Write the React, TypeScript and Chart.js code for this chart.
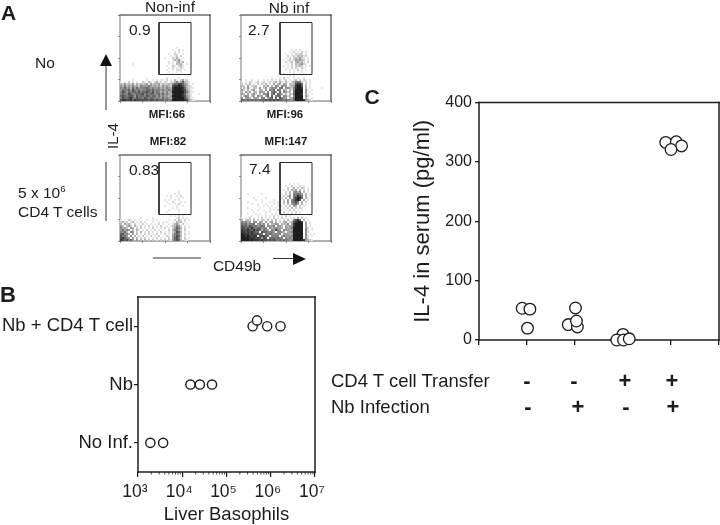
import React, { useEffect, useRef } from "react";
import { Chart, registerables } from "chart.js";

Chart.register(...registerables);

const FONT = '"Liberation Sans", Arial, sans-serif';
const INK = "#1c1c1c";

// ---- Panel A: hand-read density tables, one string per 2px row (top to bottom), digit = darkness
const blank = (n: number): string[] => Array(n).fill("");

const flowNonInfNo: string[] = [
  ...blank(16),
  "............................1",
  "..........................1..2.1",
  "...........................1.1",
  "........................1..21..1",
  ".........................1.12.2",
  "......................1...2131.1",
  "..........................13241",
  "........................1.1.2413",
  "......1.................1.1.3231.1",
  "......1................1..21.231",
  "........................1.2.1.21",
  ".......................1..1.121.1",
  "........................1...1.1",
  "..........................1..1",
  "",
  ".............1.........1.....1",
  "000000100000010010101102010310241200000000000",
  "101020101002103102312021021352463210000000000",
  "324232413232341423341322325668764310100000000",
  "435343534254445434342434327889875321000000000",
  "546453646455565454453435438999986321100000000",
  "465564755645566565554544548999987421000000000",
  "576465665756676574653535349999997531100000000",
  "565576556667565665564645438999986421000100000",
  "676567647566576566464544349999987431000000000",
  "576678657665765665554645438999997531100000000",
  "788778687777776776766656559999998742110000000",
];

const flowNbInfNo: string[] = [
  ...blank(17),
  ".........................1.1.1",
  "........................1.2.1.2.1",
  "......................1..1.2122.1",
  ".......................2.12132312",
  "......................1.2.232421.1",
  ".....................1.12.243432.1",
  "......................2.13.34231.2",
  ".......................1.2.323421",
  ".....................1.1.2.2232.1.1",
  ".......................1.2.21.21",
  "......................1.1.1.2.1.1",
  "........................1.1.1.1",
  ".....................1....1..1.1",
  "..................1.....1.1",
  "...............1...1.2.1..1.1..1",
  "..1..1..1..1.1.2.1.2.12.1.13.2.21.1",
  "1.1.21.12.12.12.23.32.31.235652.2.1",
  "2.213.1.2.213.2.4.34.43.3237886.2.1",
  "32.4.223.1.324.3.54.544.2348997.3.1",
  ".3141.32.4.24.3545.56.453258998.3.1.....1",
  "42.3.341.33.4.546.65.43.3159999.41.1",
  "3.424.33.443.5.565.6.5423.69999.4.1",
  "43.4.342.3.546.56.654.3.3269998.31.1",
  ".354.34.534.46.6.566.5423.59999.42",
  "5.443.443.55.456.6.7544.3369999.31.1",
  "665656565666767676766565546999984321",
];

const flowNonInfCd4: string[] = [
  ...blank(18),
  ".............................1",
  "...........................1.1",
  ".......................1.1..1.2",
  ".........................1...1.1",
  "......................1.1..1.1",
  ".......................1..2...1.1",
  "........................1..1.2",
  "......................1.....1..1",
  "..........................1.1",
  "........................1....1",
  ".......................1.....1",
  "",
  ".........................1.1.2.1",
  "..........1.....1...........12.1.1",
  "1.1.21.1.1...1..1.1.....1..2.31.2.1",
  "2312.13.1.2.1...1..1.1.1..1.323.1",
  "3.4231.2.1.2.1.1.1.2.1..1.1342.2.1",
  "43.342.31.2.1.2.1.1.2..1.123542.1.1",
  "5342.43.2.2.1.1.2.1.1.2.1.24653.2.1",
  "46354.3.31.1.2.1.2.1.1..2.35642.2",
  "5463.54.2.3.1.2.1.1.2.1.1.24763.1.1",
  "67453.4.3.1.2.2.1.2.1.2.1.35652.2.1",
  "7564.5.3.2.2.1.2.1.2.1.21.45763.1",
  "78654.4.3.2.2.1.1.2.1.1.2.46752.2.1",
  "8767564.4.3.3.2.2.1.2.2.2146763.21",
];

const flowNbInfCd4: string[] = [
  ...blank(14),
  "........................1.1.1",
  "......................1..2.1.2.1",
  ".......................2.13.2.31.1",
  ".....................1.2.324.3.2.1",
  "......................2.3.4535.3.1",
  "...1......1.........1.2.3.55654.3.1",
  ".....................2.34.56875.3.1",
  "......1.....1.......1.3.4.67986.31",
  ".......1..1.....1..1.2.4.56897.4.1",
  "...1......1...1.1.1..3.4.5675.3.2",
  ".....1..1...1...1.1..2.3.4564.3.1",
  "........1..1.1.1..1.1.2.3.43.2.1",
  "...1.....1....1..1.1.1.2.3.2.21",
  ".....1..1..1..1.1.2.1.1.2.2.1.1",
  "......1.....1.1..1.1.2.1.1.2.1",
  "...1...1.1..1..1.1.1.1.1.2.1.1",
  ".....1..1.1.1.1.2.1.1.2.1",
  "1.1.2.1.1.2.1.1.2.1.2.1.1.2.3.2.1",
  "3.232.3.2.32.3.2.3.1.2.3.15786.3.1",
  "54534.45.43.4.34.3.2.34.2378998.3.1",
  "6564556.4535.4.3344.3325.489999.4.1",
  "766576564565.5445.443.434489999.4.1",
  "7767686566455.5345443.434599999.42.1",
  "87787686763654.54754.5443499999.51.1",
  "887878766.7665554.5543.34599999.42",
  "98887877766.65654545.4443499999.5.1.1",
  "99898788.77766.5555.45444599999.42.1",
  "9999888787477.6665655.545499999.51",
  "999989888787767676565655459999984321",
];

const gateX = [39, 71];
const gateY = [26.5, 78.5];

// ---- Panel B
const basophilRows = ["No Inf.", "Nb", "Nb + CD4 T cell"];
const basophilNoInf = [1900, 3700];
const basophilNb = [15300, 25000, 47000];
const basophilNbCd4 = [390000, 490000, 830000, 1660000];
const basophilNbCd4Rows = [2, 2.1, 2, 2];
const decades = [1e3, 1e4, 1e5, 1e6, 1e7];
const decadeLabels = ["10³", "10⁴", "10⁵", "10⁶", "10⁷"];
const minorMultipliers = [2, 3, 4, 5, 6, 7, 8, 9];

// ---- Panel C
const il4Ticks = [0, 100, 200, 300, 400];
const groupNone = [53.5, 52, 20];
const groupNonePos = [0.9, 1.06, 1.01];
const groupNb = [54, 26, 22, 32];
const groupNbPos = [2.01, 1.86, 2.05, 2.03];
const groupCd4 = [9.5, 0, 0, 2];
const groupCd4Pos = [3.0, 2.87, 3.01, 3.13];
const groupBoth = [333, 334, 327, 321];
const groupBothPos = [3.89, 4.11, 4.22, 4.0];
const transferSigns = ["-", "-", "+", "+"];
const infectionSigns = ["-", "+", "-", "+"];

type FrameOpts = { color: string; width: number; top?: string; right?: string; left?: string; bottom?: string };

const framePlugin = (f: FrameOpts) => ({
  id: "frameLines",
  beforeDatasetsDraw(chart: any) {
    const { left, right, top, bottom } = chart.chartArea;
    const { ctx } = chart;
    const seg = (x1: number, y1: number, x2: number, y2: number, c?: string) => {
      ctx.save();
      ctx.strokeStyle = c || f.color;
      ctx.lineWidth = f.width;
      ctx.lineCap = "square";
      ctx.beginPath();
      ctx.moveTo(x1, y1);
      ctx.lineTo(x2, y2);
      ctx.stroke();
      ctx.restore();
    };
    seg(left, top, right, top, f.top);
    seg(right, top, right, bottom, f.right);
    seg(left, top, left, bottom, f.left);
    seg(left, bottom, right, bottom, f.bottom);
  },
});

const fixed = (size: number) => (scale: any) => {
  if (scale.isHorizontal()) scale.height = size;
  else scale.width = size;
};

function useChart(build: (canvas: HTMLCanvasElement) => Chart) {
  const ref = useRef<HTMLCanvasElement>(null);
  useEffect(() => {
    if (!ref.current) return;
    const c = build(ref.current);
    return () => c.destroy();
  }, []);
  return ref;
}

function FlowPanel({ grid, left, top }: { grid: string[]; left: number; top: number }) {
  const ref = useChart((canvas) => {
    const pts: { x: number; y: number }[] = [];
    const colors: string[] = [];
    grid.forEach((row, i) => {
      row.split("").forEach((ch, c) => {
        const d = Number(ch);
        if (ch === "." || !d) return;
        pts.push({ x: 2 * c + 1, y: 86 - (2 * i + 1) });
        const g = 255 - 25 * d;
        colors.push(`rgb(${g},${g},${g})`);
      });
    });
    return new Chart(canvas, {
      type: "scatter",
      data: {
        datasets: [
          {
            data: pts,
            pointStyle: "rect",
            pointRadius: 1.42,
            pointBorderWidth: 0,
            pointBackgroundColor: colors,
            order: 2,
          } as any,
          {
            data: [
              { x: gateX[0], y: gateY[0] },
              { x: gateX[1], y: gateY[0] },
              { x: gateX[1], y: gateY[1] },
              { x: gateX[0], y: gateY[1] },
              { x: gateX[0], y: gateY[0] },
            ],
            showLine: true,
            borderColor: "#2a2a2a",
            borderWidth: 1,
            pointRadius: 0,
            order: 1,
          } as any,
        ],
      },
      options: {
        responsive: false,
        animation: false,
        events: [],
        layout: { autoPadding: false, padding: { left: 2, top: 6, right: 6, bottom: 2 } },
        plugins: { legend: { display: false }, tooltip: { enabled: false } },
        scales: {
          x: {
            type: "linear",
            min: 0,
            max: 90,
            afterFit: fixed(4),
            border: { display: false },
            ticks: { display: false, stepSize: 22.5 },
            grid: { drawOnChartArea: false, tickLength: 2, color: "#777", lineWidth: 0.8 },
          },
          y: {
            type: "linear",
            min: 0,
            max: 86,
            afterFit: fixed(4),
            border: { display: false },
            ticks: { display: false, stepSize: 21.5 },
            grid: { drawOnChartArea: false, tickLength: 2, color: "#777", lineWidth: 0.8 },
          },
        },
      } as any,
      plugins: [framePlugin({ color: "#222", width: 1, left: "#777", bottom: "#666" })] as any,
    });
  });
  return <canvas ref={ref} width={102} height={98} style={{ position: "absolute", left, top, filter: "blur(0.55px)" }} />;
}

const openCircle = (data: any[], radius: number, width: number) => ({
  data,
  pointStyle: "circle",
  pointRadius: radius,
  pointBorderWidth: width,
  pointBorderColor: INK,
  pointBackgroundColor: "#fff",
  clip: false,
});

function BasophilPanel() {
  const ref = useChart((canvas) =>
    new Chart(canvas, {
      type: "scatter",
      data: {
        datasets: [
          openCircle(basophilNoInf.map((x) => ({ x, y: 0 })), 4.6, 1.4),
          openCircle(basophilNb.map((x) => ({ x, y: 1 })), 4.6, 1.4),
          openCircle(basophilNbCd4.map((x, i) => ({ x, y: basophilNbCd4Rows[i] })), 4.6, 1.4),
        ] as any,
      },
      options: {
        responsive: false,
        animation: false,
        events: [],
        layout: { autoPadding: false, padding: { left: 0, top: 10, right: 20, bottom: 0 } },
        plugins: { legend: { display: false }, tooltip: { enabled: false } },
        scales: {
          x: {
            type: "logarithmic",
            min: decades[0],
            max: decades[decades.length - 1],
            afterFit: fixed(53),
            afterBuildTicks: (s: any) => {
              s.ticks = decades.map((value) => ({ value }));
            },
            border: { display: false },
            grid: { drawOnChartArea: false, tickLength: 5, color: INK, lineWidth: 1.2 },
            ticks: {
              autoSkip: false,
              maxRotation: 0,
              padding: 5,
              labelOffset: -3,
              color: INK,
              font: { family: FONT, size: 17.5 },
              callback: (v: any) => decadeLabels[decades.indexOf(Number(v))],
            },
            title: {
              display: true,
              text: "Liver Basophils",
              color: INK,
              padding: { top: 0, bottom: -1 },
              font: { family: FONT, size: 18.5 },
            },
          },
          y: {
            type: "linear",
            min: -0.5,
            max: 2.5,
            afterFit: fixed(138),
            afterBuildTicks: (s: any) => {
              s.ticks = basophilRows.map((_, value) => ({ value }));
            },
            border: { display: false },
            grid: { drawOnChartArea: false, tickLength: 4, color: INK, lineWidth: 1.2 },
            ticks: {
              padding: 1,
              color: INK,
              font: { family: FONT, size: 18.5 },
              callback: (v: any) => basophilRows[Number(v)],
            },
          },
        },
      } as any,
      plugins: [
        framePlugin({ color: INK, width: 1.5 }),
        {
          id: "minorLogTicks",
          afterDraw(chart: any) {
            const s = chart.scales.x;
            const { ctx, chartArea } = chart;
            ctx.save();
            ctx.strokeStyle = INK;
            ctx.lineWidth = 0.8;
            decades.slice(0, -1).forEach((d) =>
              minorMultipliers.forEach((m) => {
                const x = s.getPixelForValue(d * m);
                ctx.beginPath();
                ctx.moveTo(x, chartArea.bottom);
                ctx.lineTo(x, chartArea.bottom + 2.5);
                ctx.stroke();
              })
            );
            ctx.restore();
          },
        },
      ] as any,
    })
  );
  return <canvas ref={ref} width={335} height={240} style={{ position: "absolute", left: 0, top: 285 }} />;
}

function SerumPanel() {
  const ref = useChart((canvas) => {
    const series = (vals: number[], pos: number[]) =>
      openCircle(vals.map((y, i) => ({ x: pos[i], y })), 5.8, 1.3);
    return new Chart(canvas, {
      type: "scatter",
      data: {
        datasets: [
          series(groupNone, groupNonePos),
          series(groupNb, groupNbPos),
          series(groupCd4, groupCd4Pos),
          series(groupBoth, groupBothPos),
        ] as any,
      },
      options: {
        responsive: false,
        animation: false,
        events: [],
        layout: { autoPadding: false, padding: { left: 0, top: 11, right: 1, bottom: 0 } },
        plugins: { legend: { display: false }, tooltip: { enabled: false } },
        scales: {
          x: {
            type: "linear",
            min: 0,
            max: 5,
            afterFit: fixed(20),
            border: { display: false },
            ticks: { display: false, stepSize: 1 },
            grid: { drawOnChartArea: false, tickLength: 5, color: INK, lineWidth: 1.3 },
          },
          y: {
            type: "linear",
            min: il4Ticks[0],
            max: il4Ticks[il4Ticks.length - 1],
            afterFit: fixed(69),
            border: { display: false },
            grid: { drawOnChartArea: false, tickLength: 4, color: INK, lineWidth: 1.3 },
            ticks: {
              stepSize: 100,
              padding: 3,
              color: INK,
              font: { family: FONT, size: 16 },
            },
            title: {
              display: true,
              text: "IL-4 in serum (pg/ml)",
              color: INK,
              padding: 0,
              font: { family: FONT, size: 22 },
            },
          },
        },
      } as any,
      plugins: [framePlugin({ color: INK, width: 1.5 })] as any,
    });
  });
  return <canvas ref={ref} width={310} height={270} style={{ position: "absolute", left: 410, top: 90 }} />;
}

function Label({
  x,
  y,
  size,
  children,
  bold,
  anchor = "center",
  rotate,
}: {
  x: number;
  y: number;
  size: number;
  children: React.ReactNode;
  bold?: boolean;
  anchor?: "center" | "left";
  rotate?: boolean;
}) {
  const tx = anchor === "center" ? "-50%" : "0";
  return (
    <div
      style={{
        position: "absolute",
        left: x,
        top: y,
        fontSize: size,
        fontWeight: bold ? 700 : 400,
        lineHeight: 1,
        whiteSpace: "nowrap",
        color: INK,
        transform: `translate(${tx},-50%)${rotate ? " rotate(-90deg)" : ""}`,
      }}
    >
      {children}
    </div>
  );
}

const signX = [527, 574, 625, 672];

export default function App() {
  return (
    <div
      style={{
        position: "absolute",
        left: 0,
        top: 0,
        width: 720,
        height: 525,
        overflow: "hidden",
        background: "#fff",
        fontFamily: FONT,
      }}
    >
      <FlowPanel grid={flowNonInfNo} left={114} top={9} />
      <FlowPanel grid={flowNbInfNo} left={235} top={9} />
      <FlowPanel grid={flowNonInfCd4} left={114} top={149} />
      <FlowPanel grid={flowNbInfCd4} left={235} top={149} />
      <BasophilPanel />
      <SerumPanel />

      <svg width={720} height={525} style={{ position: "absolute", left: 0, top: 0, pointerEvents: "none" }}>
        <line x1={106} y1={110} x2={106} y2={62} stroke="#333" strokeWidth={1} />
        <polygon points="106,54 100,66 112,66" fill="#111" />
        <line x1={106} y1={162} x2={106} y2={221} stroke="#333" strokeWidth={1} />
        <line x1={153} y1={258} x2={201} y2={258} stroke="#333" strokeWidth={1} />
        <line x1={273} y1={258.5} x2={296} y2={258.5} stroke="#333" strokeWidth={1} />
        <polygon points="306,259 293,253 293,265" fill="#111" />
      </svg>

      <Label x={1} y={12} size={21} bold anchor="left">A</Label>
      <Label x={0} y={295} size={22} bold anchor="left">B</Label>
      <Label x={372} y={96} size={21} bold>C</Label>

      <Label x={170} y={7} size={15.5}>Non-inf</Label>
      <Label x={289} y={8} size={15.5}>Nb inf</Label>
      <Label x={129} y={30} size={15.5} anchor="left">0.9</Label>
      <Label x={248} y={30} size={15.5} anchor="left">2.7</Label>
      <Label x={129} y={170} size={15.5} anchor="left">0.83</Label>
      <Label x={249} y={169} size={15.5} anchor="left">7.4</Label>
      <Label x={167} y={115} size={11.5} bold>MFI:66</Label>
      <Label x={285} y={115} size={11.5} bold>MFI:96</Label>
      <Label x={168} y={142} size={11.5} bold>MFI:82</Label>
      <Label x={286} y={142} size={11.5} bold>MFI:147</Label>
      <Label x={35} y={63} size={15.5} anchor="left">No</Label>
      <Label x={18} y={193} size={15.5} anchor="left">
        5 x 10<sup style={{ fontSize: 9.5, verticalAlign: "baseline", position: "relative", top: -6 }}>6</sup>
      </Label>
      <Label x={18} y={212} size={15.5} anchor="left">CD4 T cells</Label>
      <Label x={112} y={136} size={15} rotate>IL-4</Label>
      <Label x={237} y={266} size={15.5}>CD49b</Label>

      <Label x={331} y={381} size={18.5} anchor="left">CD4 T cell Transfer</Label>
      <Label x={331} y={407} size={18.5} anchor="left">Nb Infection</Label>
      {transferSigns.map((s, i) => (
        <Label key={`t${i}`} x={signX[i]} y={381} size={22} bold>{s}</Label>
      ))}
      {infectionSigns.map((s, i) => (
        <Label key={`n${i}`} x={signX[i] + (i === 1 ? 4 : 1)} y={407} size={22} bold>{s}</Label>
      ))}
    </div>
  );
}
